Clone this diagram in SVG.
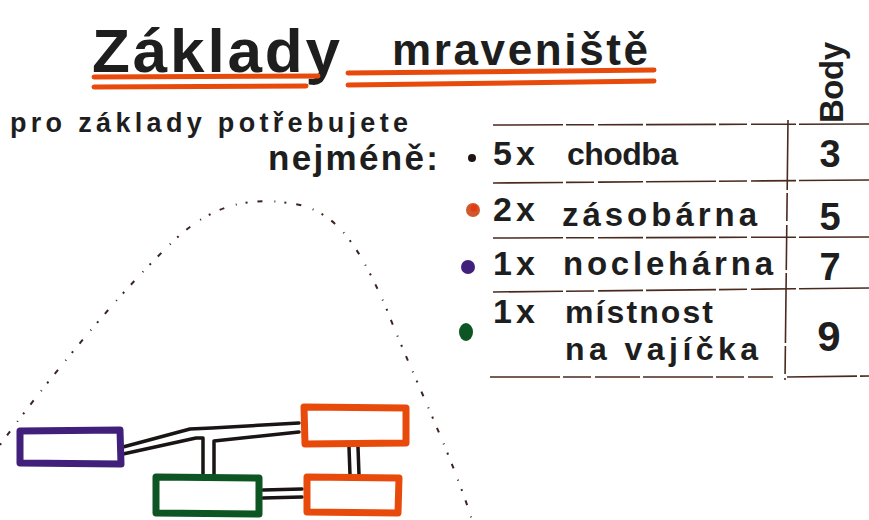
<svg xmlns="http://www.w3.org/2000/svg" width="869" height="520" viewBox="0 0 869 520">
  <style>
    .ink { font-family: "Liberation Sans", "DejaVu Sans", sans-serif; font-weight: bold; fill: #1e1e1e; }
    .rule { fill: none; stroke: #e84a0c; stroke-width: 5; stroke-linecap: round; }
    .grid { fill: none; stroke: #4a2a1e; stroke-width: 1.6; stroke-dasharray: 70 3 28 4 45 3; }
    .box { fill: none; stroke-width: 7; stroke-linejoin: round; stroke-linecap: round; }
    .pipe { fill: none; stroke: #1a1414; stroke-width: 3.5; stroke-linecap: round; stroke-linejoin: round; }
    .hill { fill: none; stroke: #3a2520; stroke-width: 2; stroke-dasharray: 2 10 5 12 1 9; }
  </style>

  <rect width="869" height="520" fill="#ffffff"/>

  <!-- heading -->
  <g id="title">
    <text class="ink" x="92" y="72" font-size="62" textLength="248" lengthAdjust="spacing">Základy</text>
    <text class="ink" x="392" y="65" font-size="44" textLength="256" lengthAdjust="spacing">mraveniště</text>
    <path class="rule" d="M 94 77 L 318 76"/>
    <path class="rule" d="M 94 87 L 306 86"/>
    <path class="rule" d="M 348 73 L 654 70"/>
    <path class="rule" d="M 348 85 L 654 81"/>
  </g>

  <g id="intro">
    <text class="ink" x="10" y="132" font-size="27" textLength="398" lengthAdjust="spacing">pro základy potřebujete</text>
    <text class="ink" x="268" y="170" font-size="35" textLength="170" lengthAdjust="spacing">nejméně:</text>
  </g>

  <!-- points table -->
  <g id="table">
    <path class="grid" d="M 493 125 L 869 124"/>
    <path class="grid" d="M 493 183 L 869 180"/>
    <path class="grid" d="M 493 238 L 869 237"/>
    <path class="grid" d="M 493 292 L 869 288"/>
    <path class="grid" d="M 490 377 L 773 377 M 787 377 L 869 376"/>
    <path class="grid" d="M 788 120 L 785 380" stroke-dasharray="none"/>
    <text class="ink" transform="translate(843 123) rotate(-90)" font-size="33" textLength="81" lengthAdjust="spacing">Body</text>
  </g>

  <g id="row-chodba">
    <circle cx="472" cy="158" r="4" fill="#1e1414"/>
    <text class="ink" x="493" y="165" font-size="34" textLength="42" lengthAdjust="spacing">5x</text>
    <text class="ink" x="567" y="165" font-size="32" textLength="111" lengthAdjust="spacing">chodba</text>
    <text class="ink" x="830" y="167" font-size="38" text-anchor="middle">3</text>
  </g>

  <g id="row-zasobarna">
    <circle cx="473" cy="210" r="7" fill="#d0582c"/>
    <circle cx="474" cy="208" r="3.5" fill="#e23c10"/>
    <text class="ink" x="493" y="221" font-size="34" textLength="42" lengthAdjust="spacing">2x</text>
    <text class="ink" x="562" y="226" font-size="33" textLength="195" lengthAdjust="spacing">zásobárna</text>
    <text class="ink" x="830" y="230" font-size="38" text-anchor="middle">5</text>
  </g>

  <g id="row-noclehárna">
    <circle cx="468" cy="267" r="7" fill="#40207a"/>
    <text class="ink" x="493" y="275" font-size="34" textLength="42" lengthAdjust="spacing">1x</text>
    <text class="ink" x="563" y="275" font-size="33" textLength="210" lengthAdjust="spacing">noclehárna</text>
    <text class="ink" x="830" y="280" font-size="38" text-anchor="middle">7</text>
  </g>

  <g id="row-mistnost">
    <ellipse cx="466" cy="332" rx="7" ry="9" fill="#0d5522"/>
    <text class="ink" x="493" y="323" font-size="34" textLength="42" lengthAdjust="spacing">1x</text>
    <text class="ink" x="565" y="323" font-size="32" textLength="148" lengthAdjust="spacing">místnost</text>
    <text class="ink" x="565" y="360" font-size="32" textLength="193" lengthAdjust="spacing">na vajíčka</text>
    <text class="ink" x="829" y="351" font-size="42" text-anchor="middle">9</text>
  </g>

  <!-- anthill outline -->
  <path id="anthill" class="hill" d="M 0 445 C 40 390, 120 290, 180 235 C 215 205, 250 195, 300 205 C 340 215, 360 250, 385 305 C 410 370, 450 450, 472 520"/>

  <!-- tunnels between chambers -->
  <g id="connectors">
    <path class="pipe" d="M 123 447 L 190 429 L 212 428 L 299 423"/>
    <path class="pipe" d="M 123 454 L 196 438 L 203 438 L 203 476"/>
    <path class="pipe" d="M 214 476 L 214 441 L 299 432"/>
    <path class="pipe" d="M 349 447 L 350 475"/>
    <path class="pipe" d="M 358 447 L 359 475"/>
    <path class="pipe" d="M 263 490 L 302 489"/>
    <path class="pipe" d="M 263 498 L 302 497"/>
  </g>

  <!-- chambers -->
  <g id="noclehárna">
    <path class="box" stroke="#40207a" d="M 20 431 L 120 430 L 121 464 L 20 463 Z"/>
  </g>
  <g id="mistnost-na-vajicka">
    <path class="box" stroke="#0d5522" d="M 156 477 L 259 478 L 259 514 L 156 513 Z"/>
  </g>
  <g id="zasobarna-1">
    <path class="box" stroke="#e84a0c" d="M 304 407 L 406 408 L 406 443 L 305 444 Z"/>
  </g>
  <g id="zasobarna-2">
    <path class="box" stroke="#e84a0c" d="M 307 477 L 399 478 L 398 513 L 307 512 Z"/>
  </g>
</svg>
